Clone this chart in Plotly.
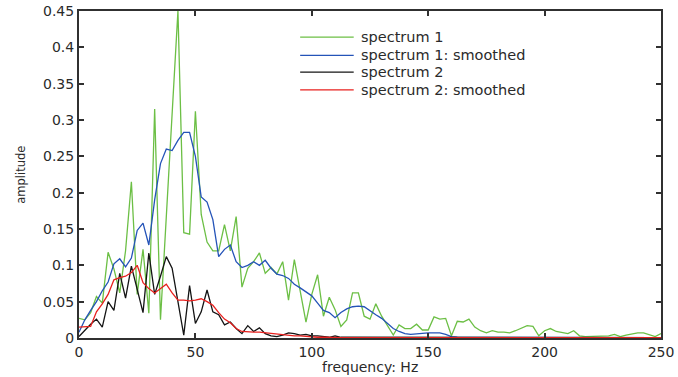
import numpy as np
import plotly.graph_objects as go

# frequency axis: 0 .. 250 Hz in 2.5 Hz steps
freq = np.arange(0, 250.01, 2.5)

spectrum1 = [
    0.027, 0.025, 0.035, 0.057, 0.048, 0.118, 0.095, 0.062, 0.120, 0.215,
    0.060, 0.122, 0.034, 0.315, 0.025, 0.170, 0.310, 0.450, 0.145, 0.143,
    0.312, 0.170, 0.132, 0.120, 0.120, 0.156, 0.120, 0.167, 0.070, 0.096,
    0.105, 0.117, 0.089, 0.097, 0.088, 0.105, 0.052, 0.108, 0.065, 0.022,
    0.060, 0.087, 0.030, 0.056, 0.039, 0.016, 0.025, 0.062, 0.062, 0.030,
    0.026, 0.047, 0.030, 0.017, 0.004, 0.018, 0.013, 0.013, 0.019, 0.011,
    0.011, 0.029, 0.026, 0.027, 0.003, 0.023, 0.022, 0.026, 0.015, 0.010,
    0.007, 0.010, 0.008, 0.008, 0.007, 0.010, 0.013, 0.017, 0.016, 0.003,
    0.010, 0.013, 0.009, 0.008, 0.006, 0.010, 0.003, 0.002, 0.002, 0.002,
    0.002, 0.003, 0.005, 0.002, 0.004, 0.006, 0.007, 0.007, 0.005, 0.002,
    0.006,
]

spectrum1_smoothed = [
    0.008, 0.025, 0.038, 0.050, 0.065, 0.077, 0.102, 0.109, 0.098, 0.110,
    0.148, 0.158, 0.128, 0.190, 0.240, 0.260, 0.258, 0.272, 0.283, 0.283,
    0.250, 0.194, 0.187, 0.163, 0.112, 0.122, 0.128, 0.105, 0.097, 0.100,
    0.105, 0.100, 0.107, 0.096, 0.088, 0.086, 0.082, 0.074, 0.069, 0.064,
    0.058, 0.048, 0.038, 0.035, 0.028, 0.035, 0.040, 0.043, 0.044, 0.043,
    0.037, 0.032, 0.027, 0.020, 0.013, 0.009, 0.006, 0.005, 0.006, 0.007,
    0.007, 0.007, 0.007, 0.005, 0.002, 0.001, 0.001, 0.001, 0.001, 0.0005,
    0.0005, 0.0005, 0.0005, 0.0005, 0.0005, 0.0005, 0.0005, 0.0005, 0.0005, 0.0005,
    0.0005, 0.0005, 0.0005, 0.0005, 0.0005, 0.0005, 0.0005, 0.0005, 0.0005, 0.0005,
    0.0005, 0.0005, 0.0005, 0.0005, 0.0005, 0.0005, 0.0005, 0.0005, 0.0005, 0.0005,
    0.0005,
]

spectrum2 = [
    0.002, 0.011, 0.019, 0.026, 0.015, 0.050, 0.038, 0.089, 0.055, 0.099,
    0.068, 0.035, 0.117, 0.060, 0.085, 0.112, 0.096, 0.050, 0.004, 0.072,
    0.020, 0.036, 0.066, 0.036, 0.032, 0.018, 0.022, 0.013, 0.006, 0.017,
    0.009, 0.014, 0.006, 0.003, 0.002, 0.004, 0.007, 0.006, 0.004, 0.005,
    0.003, 0.003, 0.002, 0.001, 0.003, 0.001, 0.001, 0.001, 0.0005, 0.0005,
    0.0005, 0.0005, 0.0005, 0.0005, 0.0005, 0.0005, 0.0005, 0.0005, 0.0005, 0.0005,
    0.0005, 0.0005, 0.0005, 0.0005, 0.0005, 0.0005, 0.0005, 0.0005, 0.0005, 0.0005,
    0.0005, 0.0005, 0.0005, 0.0005, 0.0005, 0.0005, 0.0005, 0.0005, 0.0005, 0.0005,
    0.0005, 0.0005, 0.0005, 0.0005, 0.0005, 0.0005, 0.0005, 0.0005, 0.0005, 0.0005,
    0.0005, 0.0005, 0.0005, 0.0005, 0.0005, 0.0005, 0.0005, 0.0005, 0.0005, 0.0005,
    0.0005,
]

spectrum2_smoothed = [
    0.015, 0.015, 0.016, 0.036, 0.047, 0.060, 0.080, 0.083, 0.085, 0.090,
    0.100, 0.076, 0.068, 0.062, 0.068, 0.074, 0.062, 0.052, 0.052, 0.051,
    0.052, 0.054, 0.050, 0.045, 0.035, 0.026, 0.021, 0.013, 0.009, 0.008,
    0.008, 0.008, 0.007, 0.006, 0.005, 0.004, 0.004, 0.003, 0.003, 0.002,
    0.002, 0.001, 0.001, 0.0005, 0.0005, 0.0005, 0.0005, 0.0005, 0.0005, 0.0005,
    0.0005, 0.0005, 0.0005, 0.0005, 0.0005, 0.0005, 0.0005, 0.0005, 0.0005, 0.0005,
    0.0005, 0.0005, 0.0005, 0.0005, 0.0005, 0.0005, 0.0005, 0.0005, 0.0005, 0.0005,
    0.0005, 0.0005, 0.0005, 0.0005, 0.0005, 0.0005, 0.0005, 0.0005, 0.0005, 0.0005,
    0.0005, 0.0005, 0.0005, 0.0005, 0.0005, 0.0005, 0.0005, 0.0005, 0.0005, 0.0005,
    0.0005, 0.0005, 0.0005, 0.0005, 0.0005, 0.0005, 0.0005, 0.0005, 0.0005, 0.0005,
    0.0005,
]

series_names = ["spectrum 1", "spectrum 1: smoothed", "spectrum 2", "spectrum 2: smoothed"]
series_values = [spectrum1, spectrum1_smoothed, spectrum2, spectrum2_smoothed]
series_colors = ["#6cbf45", "#2453b8", "#141414", "#e8201e"]

FONT = "DejaVu Sans"
TEXT = "#2a2a2a"

fig = go.Figure()
for name, vals, col in zip(series_names, series_values, series_colors):
    fig.add_trace(go.Scatter(
        x=freq, y=vals, mode="lines", name=name,
        line=dict(color=col, width=1.3),
        showlegend=False,
    ))

# hand-placed legend (no frame), line sample + label per series
leg_x0, leg_x1, leg_tx = 0.380, 0.472, 0.481
leg_y = [0.920, 0.864, 0.813, 0.759]
for name, col, yy in zip(series_names, series_colors, leg_y):
    fig.add_shape(type="line", xref="paper", yref="paper",
                  x0=leg_x0, x1=leg_x1, y0=yy, y1=yy,
                  line=dict(color=col, width=1.3))
    fig.add_annotation(xref="paper", yref="paper", x=leg_tx, y=yy,
                       text=name, showarrow=False, xanchor="left", yanchor="middle",
                       font=dict(family=FONT, size=14.5, color=TEXT))

axis_common = dict(
    showgrid=False, zeroline=False, automargin=False,
    showline=True, linecolor="#303030", linewidth=2, mirror="allticks",
    ticks="inside", ticklen=5, tickwidth=1.5, tickcolor="#303030",
    tickfont=dict(family=FONT, size=14, color=TEXT),
)

fig.update_layout(
    width=678, height=377,
    margin=dict(l=79, r=17, t=11, b=39),
    paper_bgcolor="white", plot_bgcolor="white",
    xaxis=dict(range=[0, 250], tickvals=[0, 50, 100, 150, 200, 250],
               **axis_common),
    yaxis=dict(range=[0, 0.45], tickvals=[0, 0.05, 0.1, 0.15, 0.2, 0.25, 0.3, 0.35, 0.4, 0.45],
               ticktext=["0", "0.05", "0.1", "0.15", "0.2", "0.25", "0.3", "0.35", "0.4", "0.45"],
               **axis_common),
)

# axis titles
fig.add_annotation(xref="paper", yref="paper", x=0.5, y=-0.088,
                   text="frequency: Hz", showarrow=False,
                   xanchor="center", yanchor="middle",
                   font=dict(family=FONT, size=14, color=TEXT))
fig.add_annotation(xref="paper", yref="paper", x=-0.101, y=0.5,
                   text="amplitude", showarrow=False, textangle=-90,
                   xanchor="center", yanchor="middle",
                   font=dict(family=FONT, size=11.5, color=TEXT))

fig.write_html("out.html")
